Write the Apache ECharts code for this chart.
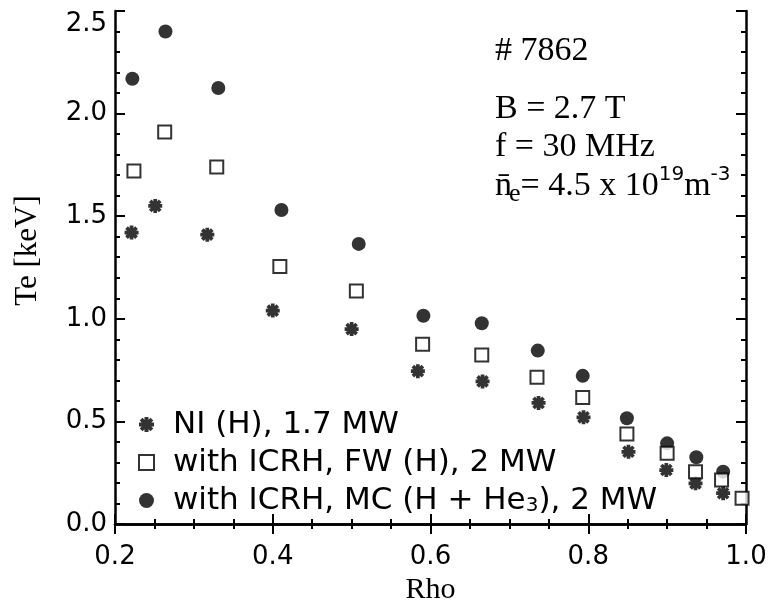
<!DOCTYPE html>
<html>
<head>
<meta charset="utf-8">
<script src="https://cdn.jsdelivr.net/npm/echarts@6/dist/echarts.min.js"></script>
<style>
html,body{margin:0;padding:0;background:#fff;}
#chart{width:773px;height:604px;}
</style>
</head>
<body>
<div id="chart"></div>
<script>
// ---- data ----
const seriesNames = ['NI (H), 1.7 MW', 'with ICRH, FW (H), 2 MW', 'with ICRH, MC (H + He3), 2 MW'];
const rhoNI = [0.221, 0.251, 0.317, 0.400, 0.500, 0.584, 0.666, 0.737, 0.794, 0.851, 0.899, 0.936, 0.971];
const teNI  = [1.42, 1.55, 1.41, 1.04, 0.95, 0.745, 0.695, 0.59, 0.52, 0.352, 0.263, 0.198, 0.15];
const rhoFW = [0.224, 0.263, 0.329, 0.409, 0.506, 0.590, 0.665, 0.735, 0.793, 0.849, 0.900, 0.936, 0.969, 0.995];
const teFW  = [1.72, 1.91, 1.74, 1.255, 1.135, 0.876, 0.824, 0.715, 0.617, 0.439, 0.345, 0.255, 0.214, 0.125];
const rhoMC = [0.222, 0.264, 0.331, 0.411, 0.509, 0.591, 0.665, 0.736, 0.793, 0.849, 0.900, 0.937, 0.971];
const teMC  = [2.17, 2.40, 2.125, 1.53, 1.365, 1.015, 0.978, 0.845, 0.722, 0.515, 0.393, 0.325, 0.255];
const xTicks = [0.2, 0.4, 0.6, 0.8, 1.0];
const yTicks = [0.0, 0.5, 1.0, 1.5, 2.0, 2.5];
const annotLines = ['# 7862', 'B = 2.7 T', 'f = 30 MHz'];

const zip = (a, b) => a.map((v, i) => [v, b[i]]);
const asterisk = 'path://M-1.6,-6L1.6,-6L1.6,6L-1.6,6Z M-6,-1.6L6,-1.6L6,1.6L-6,1.6Z M-3.17,-5.43L5.43,3.17L3.17,5.43L-5.43,-3.17Z M-5.43,3.17L3.17,-5.43L5.43,-3.17L-3.17,5.43Z';

const sans = 'DejaVu Sans';
const serif = 'Liberation Serif';
const axisLineStyle = {color: '#000', width: 2.5};

const chart = echarts.init(document.getElementById('chart'), null, {renderer: 'canvas'});
const option = {
  backgroundColor: '#fff',
  animation: false,
  grid: {left: 115, right: 27, top: 11, bottom: 80, containLabel: false, outerBoundsMode: 'none'},
  xAxis: [{
    type: 'value', min: xTicks[0], max: xTicks[xTicks.length - 1], interval: 0.2,
    position: 'bottom',
    name: 'Rho', nameLocation: 'middle', nameGap: 51,
    nameTextStyle: {fontFamily: serif, fontSize: 30, color: '#000'},
    axisLine: {show: true, lineStyle: axisLineStyle},
    axisTick: {show: true, inside: true, length: 10, lineStyle: {color: '#000', width: 2}},
    minorTick: {show: true, splitNumber: 4, length: 5, lineStyle: {color: '#000', width: 2}},
    axisLabel: {show: true, margin: 20, fontFamily: sans, fontSize: 26, color: '#000',
      formatter: v => v.toFixed(1)},
    splitLine: {show: false}
  }, {
    type: 'value', min: xTicks[0], max: xTicks[xTicks.length - 1], interval: 0.2,
    position: 'top',
    axisLine: {show: true, lineStyle: axisLineStyle},
    axisTick: {show: true, inside: true, length: 10, lineStyle: {color: '#000', width: 2}},
    minorTick: {show: true, splitNumber: 4, length: 5, lineStyle: {color: '#000', width: 2}},
    axisLabel: {show: false},
    splitLine: {show: false}
  }],
  yAxis: [{
    type: 'value', min: yTicks[0], max: yTicks[yTicks.length - 1], interval: 0.5,
    position: 'left',
    name: 'Te [keV]', nameLocation: 'middle', nameGap: 72,
    nameTextStyle: {fontFamily: serif, fontSize: 31, color: '#000', padding: [0, 0, 0, 34]},
    axisLine: {show: true, lineStyle: axisLineStyle},
    axisTick: {show: true, inside: true, length: 10, lineStyle: {color: '#000', width: 2}},
    minorTick: {show: true, splitNumber: 5, length: 5, lineStyle: {color: '#000', width: 2}},
    axisLabel: {show: true, margin: 8, fontFamily: sans, fontSize: 26, color: '#000',
      formatter: v => (v === 2.5 ? '{t|' + v.toFixed(1) + '}' : v.toFixed(1)),
      rich: {t: {fontFamily: sans, fontSize: 26, color: '#000', padding: [26, 0, 0, 0]}}},
    splitLine: {show: false}
  }, {
    type: 'value', min: yTicks[0], max: yTicks[yTicks.length - 1], interval: 0.5,
    position: 'right',
    axisLine: {show: true, lineStyle: axisLineStyle},
    axisTick: {show: true, inside: true, length: 10, lineStyle: {color: '#000', width: 2}},
    minorTick: {show: true, splitNumber: 5, length: 5, lineStyle: {color: '#000', width: 2}},
    axisLabel: {show: false},
    splitLine: {show: false}
  }],
  legend: {
    orient: 'vertical', left: 133, top: 404,
    data: [seriesNames[0], seriesNames[1], seriesNames[2]],
    itemWidth: 15, itemHeight: 15, itemGap: 7,
    textStyle: {fontFamily: sans, fontSize: 31, color: '#000', lineHeight: 30, padding: [0, 0, 0, 14],
      rich: {s: {fontFamily: sans, fontSize: 20, color: '#000', verticalAlign: 'bottom', lineHeight: 22}}},
    formatter: name => name.replace('He3', 'He{s|3}')
  },
  series: [{
    name: seriesNames[0], type: 'scatter', data: zip(rhoNI, teNI),
    symbol: asterisk, symbolSize: 14,
    itemStyle: {color: '#000'}, z: 2
  }, {
    name: seriesNames[2], type: 'scatter', data: zip(rhoMC, teMC),
    symbol: 'circle', symbolSize: 14,
    itemStyle: {color: '#000'}, z: 3
  }, {
    name: seriesNames[1], type: 'scatter', data: zip(rhoFW, teFW),
    symbol: 'rect', symbolSize: 13,
    itemStyle: {color: '#fff', borderColor: '#000', borderWidth: 2}, z: 4
  }],
  graphic: [
    {type: 'text', left: 495, top: 34, style: {text: annotLines[0], font: '34px "Liberation Serif"', fill: '#000'}},
    {type: 'text', left: 495, top: 92, style: {text: annotLines[1], font: '34px "Liberation Serif"', fill: '#000'}},
    {type: 'text', left: 495, top: 130, style: {text: annotLines[2], font: '34px "Liberation Serif"', fill: '#000'}},
    {type: 'text', left: 495, top: 165, style: {
      text: '{m|n\u0304}{e|e}{m|= 4.5 x 10}{sup|19}{m|m}{sup|-3}',
      rich: {
        m: {fontFamily: serif, fontSize: 34, color: '#000', lineHeight: 38, verticalAlign: 'bottom'},
        e: {fontFamily: serif, fontSize: 26, color: '#000', lineHeight: 30, verticalAlign: 'bottom', padding: [0, 0, -4, -3]},
        sup: {fontFamily: sans, fontSize: 20, color: '#000', lineHeight: 22, verticalAlign: 'top'}
      }
    }}
  ]
};
chart.setOption(option);
</script>
</body>
</html>
